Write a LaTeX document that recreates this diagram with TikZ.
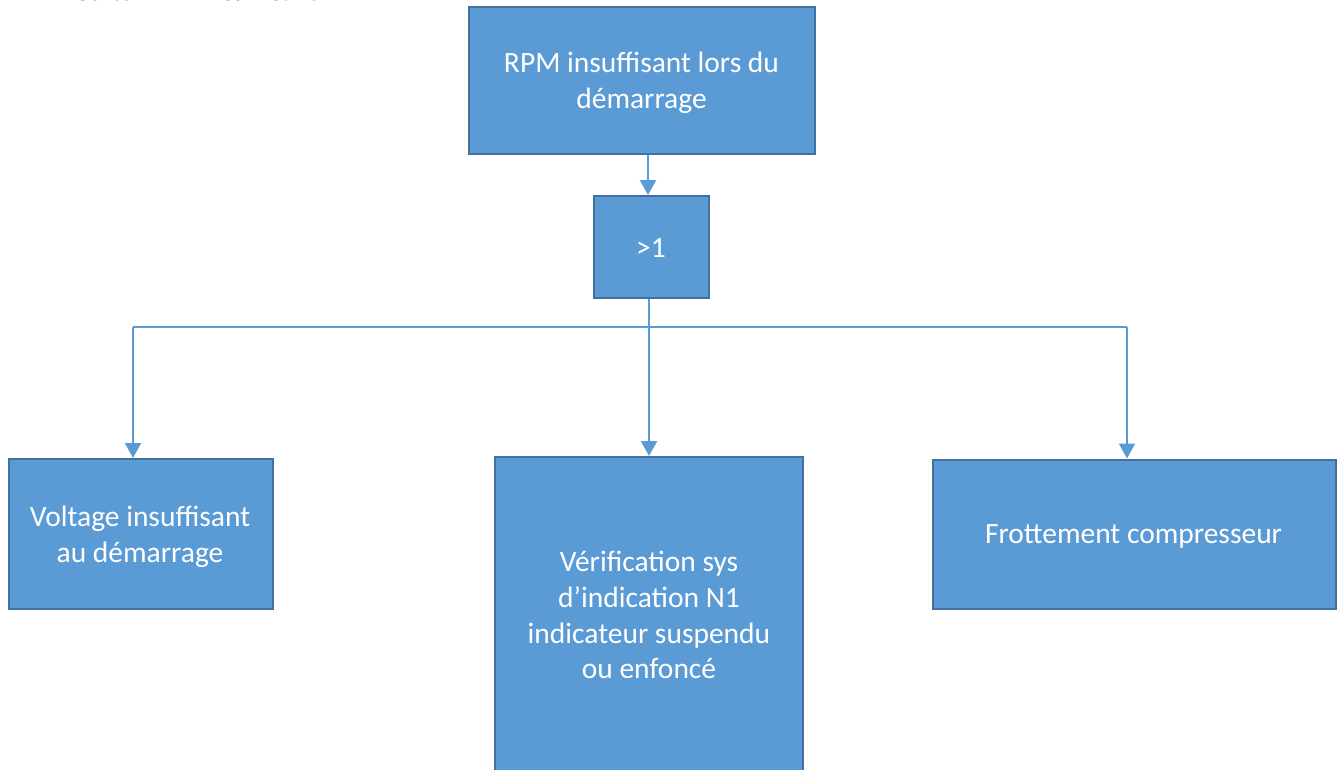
\documentclass[tikz,border=0pt]{standalone}
\usepackage{fontspec}
\setmainfont{Carlito}
\newfontfamily\headfont{Liberation Serif}
\usetikzlibrary{arrows.meta}
\definecolor{boxfill}{HTML}{5B9BD5}
\definecolor{boxline}{HTML}{41719C}
\definecolor{linkline}{HTML}{5B9BD5}
\begin{document}
\begin{tikzpicture}[x=1pt,y=-1pt,
  box/.style={draw=boxline, line width=2pt, fill=boxfill, inner sep=0pt},
  label/.style={text=white, align=center, inner sep=0pt,
    font=\fontsize{29.5}{35.8}\selectfont},
  link/.style={draw=linkline, line width=2.2pt,
    -{Triangle[width=16pt,length=15pt]}},
  bus/.style={draw=linkline, line width=1.3pt}]
\useasboundingbox (0,0) rectangle (1337,769);

% heading, mostly above the page
\node[anchor=base west, font=\headfont\bfseries\fontsize{25.5}{30}\selectfont, inner sep=0pt]
  (head) at (76,0.8) {Suite RPM insuffisant};

% boxes
\node[box, minimum width=346pt, minimum height=147pt] (top) at (642,80) {};
\node[box, minimum width=115pt, minimum height=102pt] (gate) at (651.5,247) {};
\node[box, minimum width=264pt, minimum height=150pt] (left) at (141,534) {};
\node[box, minimum width=308pt, minimum height=340pt] (mid) at (649,627) {};
\node[box, minimum width=403pt, minimum height=149pt] (right) at (1134,534) {};

% box texts
\node[label] (toptxt) at (641.5,83) {RPM insuffisant lors du\\démarrage};
\node[label, anchor=base] (gatetxt) at (651,257) {>1};
\node[label] (lefttxt) at (140,537) {Voltage insuffisant\\au démarrage};
\node[label] (midtxt) at (649,615)
  {Vérification sys\\d’indication N1\\indicateur suspendu\\ou enfoncé};
\node[label, anchor=base] (righttxt) at (1133.5,543) {Frottement compresseur};

% connectors
\draw[link] (top.south -| 648,0) -- (gate.north -| 648,0);
\coordinate (busL) at (133,327);
\coordinate (busM) at (649,327);
\coordinate (busR) at (1127,327);
\draw[bus] (gate.south -| busM) -- (busM);
\draw[bus] (busL) -- (busR);
\draw[link] (busL) -- (busL |- left.north);
\draw[link] (busM) -- (busM |- mid.north);
\draw[link] (busR) -- (busR |- right.north);
\end{tikzpicture}
\end{document}
